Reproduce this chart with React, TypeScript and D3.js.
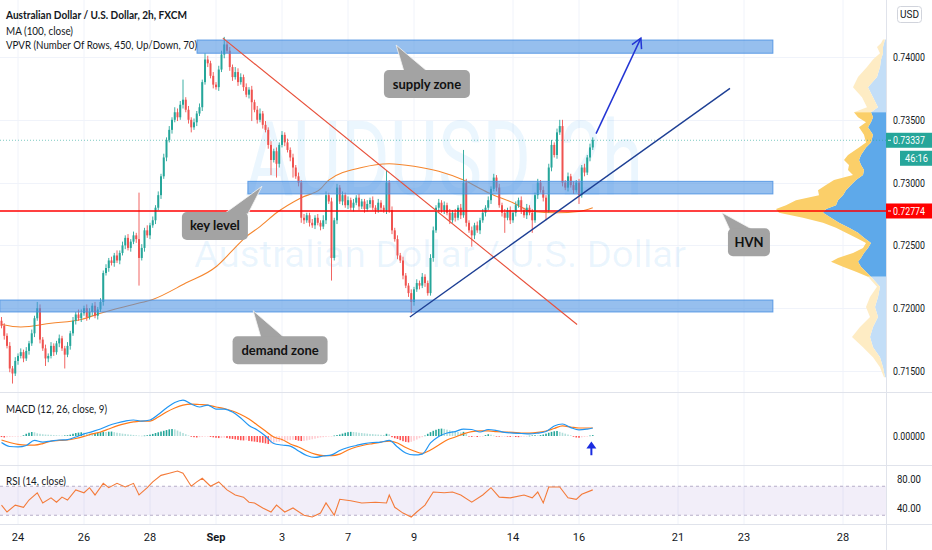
import * as React from "react";
import * as d3 from "d3";

const W = 932;
const H = 550;

// AUDUSD 2h closes, in pips (7186 = 0.71860), one per bar from Aug 21 to Sep 16
const firstOpen = 7190;
const closes = [
  7186, 7178, 7170, 7152, 7148, 7158, 7162, 7165, 7160, 7166, 7172, 7180,
  7192, 7200, 7175, 7168, 7160, 7162, 7170, 7165, 7172, 7176, 7168, 7163,
  7170, 7180, 7190, 7195, 7192, 7196, 7200, 7193, 7197, 7202, 7194, 7199,
  7205, 7228, 7232, 7238, 7236, 7242, 7238, 7244, 7250, 7256, 7248, 7253,
  7258, 7255, 7240, 7248, 7262, 7258, 7266, 7270, 7280, 7290, 7305, 7320,
  7334, 7342, 7350, 7356, 7352, 7362, 7366, 7358, 7350, 7344, 7348, 7355,
  7360, 7380, 7398, 7395, 7385, 7378, 7376, 7390, 7402, 7410, 7405, 7392,
  7384, 7388, 7380, 7384, 7376, 7370, 7374, 7364, 7358, 7350, 7355, 7346,
  7342, 7330, 7318, 7325, 7315, 7330, 7338, 7332, 7326, 7320, 7312, 7305,
  7300, 7272, 7270, 7274, 7268, 7266, 7272, 7268, 7265, 7270, 7290, 7285,
  7240, 7270, 7296, 7285, 7290, 7282, 7286, 7280, 7284, 7288, 7281, 7285,
  7279, 7283, 7286, 7280, 7278, 7284, 7280, 7278, 7300, 7278, 7262, 7255,
  7242, 7238, 7226, 7218, 7212, 7205, 7215, 7220, 7218, 7225, 7220, 7212,
  7240, 7262, 7280, 7284, 7278, 7282, 7276, 7270, 7276, 7272, 7280, 7274,
  7300, 7268, 7262, 7258, 7266, 7262, 7270, 7276, 7280, 7286, 7295, 7304,
  7296, 7282, 7276, 7272, 7278, 7270, 7276, 7282, 7286, 7278, 7274, 7280,
  7276, 7270, 7290, 7300, 7294, 7288, 7278, 7312, 7330, 7322, 7340, 7345,
  7300, 7296, 7305, 7298, 7294, 7300, 7290, 7312, 7308, 7320, 7328, 7334,
];
// wick length above / below the body, pips
const wickHi = [
  3, 2, 2, 3, 2, 3, 2, 3, 2, 3, 2, 3,
  2, 5, 3, 2, 3, 2, 3, 2, 2, 3, 2, 2,
  3, 2, 3, 2, 4, 3, 2, 3, 3, 2, 3, 2,
  3, 2, 3, 2, 3, 2, 4, 2, 3, 2, 3, 2,
  3, 2, 37, 3, 2, 4, 2, 3, 2, 3, 2, 3,
  2, 3, 2, 4, 3, 3, 16, 2, 3, 2, 3, 2,
  3, 2, 5, 3, 2, 3, 2, 3, 3, 6, 2, 3,
  2, 4, 3, 3, 2, 3, 2, 3, 2, 3, 4, 2,
  3, 2, 3, 2, 3, 2, 3, 2, 3, 2, 3, 2,
  3, 2, 3, 2, 2, 3, 2, 3, 2, 4, 3, 2,
  3, 2, 3, 2, 3, 2, 3, 2, 3, 2, 3, 2,
  2, 3, 2, 3, 2, 3, 2, 2, 10, 2, 3, 2,
  3, 2, 3, 2, 2, 3, 2, 3, 2, 3, 2, 2,
  3, 3, 2, 3, 2, 3, 2, 3, 2, 3, 2, 3,
  26, 3, 2, 3, 2, 3, 2, 3, 2, 3, 2, 3,
  2, 3, 2, 3, 2, 3, 2, 3, 2, 3, 2, 3,
  2, 3, 2, 3, 2, 3, 2, 3, 4, 2, 3, 5,
  5, 2, 3, 2, 3, 2, 3, 2, 3, 2, 3, 2,
];
const wickLo = [
  2, 3, 2, 3, 8, 2, 3, 2, 3, 2, 3, 2,
  3, 2, 3, 2, 6, 3, 2, 3, 2, 3, 2, 11,
  2, 3, 2, 3, 2, 3, 2, 3, 2, 3, 2, 3,
  2, 3, 2, 3, 2, 3, 2, 3, 2, 3, 2, 3,
  2, 3, 22, 2, 3, 2, 3, 2, 3, 2, 3, 2,
  3, 2, 3, 2, 3, 2, 3, 2, 3, 4, 2, 3,
  2, 3, 2, 3, 2, 3, 2, 3, 2, 3, 2, 3,
  3, 2, 3, 2, 3, 2, 3, 15, 2, 3, 2, 3,
  2, 3, 12, 2, 11, 3, 2, 3, 2, 3, 8, 2,
  3, 4, 3, 2, 3, 2, 3, 2, 3, 2, 3, 2,
  18, 2, 3, 2, 3, 2, 3, 2, 3, 2, 3, 2,
  3, 2, 3, 2, 3, 2, 3, 2, 3, 2, 3, 2,
  3, 2, 3, 2, 3, 9, 3, 2, 3, 2, 3, 2,
  2, 3, 2, 3, 2, 3, 2, 3, 2, 3, 2, 3,
  2, 3, 2, 9, 3, 2, 3, 2, 3, 2, 3, 2,
  3, 2, 3, 12, 2, 3, 2, 3, 2, 3, 2, 3,
  2, 10, 2, 3, 2, 3, 8, 2, 3, 2, 3, 2,
  3, 2, 3, 2, 3, 2, 7, 2, 3, 2, 3, 2,
];

// MA (100, close), read at a few bars
const maAt = [0, 7, 18, 29, 36, 48, 55, 67, 78, 84, 89, 94, 100, 109, 116, 119, 131, 141, 150, 159, 168, 177, 186, 193, 202, 210, 215];
const maVal = [7187, 7185, 7188, 7191, 7196, 7203, 7207, 7220, 7233, 7246, 7257, 7265, 7276, 7288, 7295, 7302, 7312, 7315, 7313, 7309, 7302, 7292, 7284, 7277, 7276, 7277, 7280];

// MACD (12, 26, close, 9), pips, every 3rd bar
const macdAt = [
  0, 3, 6, 9, 12, 15, 18, 21, 24, 27, 30, 33, 36, 39, 42, 45, 48, 51, 54, 57, 60, 63, 66, 69,
  72, 75, 78, 81, 84, 87, 90, 93, 96, 99, 102, 105, 108, 111, 114, 117, 120, 123, 126, 129,
  132, 135, 138, 141, 144, 147, 150, 153, 156, 159, 162, 165, 168, 171, 174, 177, 180, 183,
  186, 189, 192, 195, 198, 201, 204, 207, 210, 213, 215,
];
const macdVal = [
  -4.4, -7.1, -7.4, -6.4, -3.0, -4.1, -3.4, -2.7, -2.4, -0.7, 1.4, 3.0, 4.7, 7.1, 8.8, 10.1,
  10.8, 10.1, 10.8, 14.5, 18.9, 22.6, 24.3, 21.6, 19.6, 20.9, 18.2, 18.2, 16.2, 12.2, 7.1, 4.1,
  0, -5.1, -6.1, -6.8, -10.1, -13.2, -14.5, -13.5, -12.8, -9.8, -7.8, -6.4, -5.1, -4.4, -4.1,
  -3.0, -7.4, -11.5, -12.8, -12.2, -4.7, -0.3, 2.0, 3.0, 4.7, 4.4, 2.7, 4.4, 3.7, 2.4, 2.0,
  1.7, 1.4, 2.0, 3.0, 6.8, 8.1, 5.7, 4.1, 4.7, 5.4,
];
const signalVal = [
  -2.7, -4.4, -5.7, -6.1, -6.1, -5.1, -3.4, -3.0, -2.7, -1.7, -0.3, 1.4, 2.7, 4.7, 6.8, 8.4,
  9.5, 10.1, 10.1, 12.8, 16.2, 18.9, 20.9, 21.6, 21.3, 20.9, 19.6, 18.6, 16.9, 14.5, 11.5, 7.4,
  3.4, -0.7, -2.4, -5.4, -7.4, -10.1, -12.2, -13.2, -13.2, -12.2, -9.5, -7.4, -6.1, -5.1, -4.1,
  -3.4, -4.7, -7.8, -10.1, -11.8, -9.5, -6.1, -2.7, -0.7, 1.4, 3.0, 3.4, 3.4, 3.0, 2.7, 2.4,
  2.0, 2.0, 2.4, 3.4, 5.1, 6.8, 6.1, 5.4, 5.4, 5.4,
];
// MACD histogram, one per bar
const macdHist = [
  -0.7, -1.0, -0.8, -0.6, -0.5, -0.4,
  -0.3, -0.2, 0.5, 1.5, 2.2, 2.7, 2.5, 1.8, 1.5, 1.2, 1.0, 0.9, 0.8, 0.6,
  0.5, 0.4, 0.3, 0.4, 0.5,
  0.9, 1.5, 2.0, 2.3, 2.5, 2.2, 2.0,
  1.8, 1.7, 1.9,
  2.3, 2.6, 2.8, 2.7, 2.9, 3.0, 2.6, 2.2,
  1.9, 1.6, 1.4, 1.1, 0.9, 0.7,
  0.5, 0.3, 0.2, 0.3, 0.5,
  0.9, 1.4, 2.0, 2.5, 3.0, 3.5, 4.0, 4.5, 4.7, 4.5,
  3.7, 2.9, 2.0, 1.2, 0.4,
  -0.5, -0.8, -1.0, -0.8, -0.6, -0.4, -0.3, -0.6, -0.9,
  -1.2, -1.4, -1.3, -1.1, -1.4, -1.8, -2.0,
  -2.3, -2.6, -2.9, -3.0, -2.8, -3.3, -3.6, -3.8, -4.1, -4.4, -4.6, -5.0,
  -5.4, -5.0,
  -4.5, -4.0, -3.8, -3.5, -3.2, -3.0, -2.8, -2.6, -2.7, -3.2,
  -3.4, -3.3, -3.0, -2.6,
  -2.2, -1.8, -1.4, -1.0, -0.8,
  -0.6, -0.4, -0.3,
  0.3, 0.6, 1.0,
  1.6, 2.2, 2.6, 2.8, 2.7,
  2.5, 2.2, 2.0, 1.8, 1.6, 1.4, 1.3, 1.1, 1.0, 0.8, 0.7,
  1.5, 1.2,
  -0.8, -1.5, -2.0,
  -2.8, -3.5, -4.0, -4.3,
  -3.9, -3.2, -2.4, -1.5,
  -0.8, 0.3,
  1.5, 2.6, 3.5, 4.2, 4.8, 5.0, 4.8,
  4.3, 3.8, 3.4, 3.0, 2.7, 2.4,
  2.8, 1.5,
  -0.3, -0.6, -0.5, -0.7, -0.5, -0.3,
  0.6, 1.2, 0.9,
  0.3, -0.3, -0.4, -0.3, -0.2, -0.4, -0.6, -0.5,
  -0.7, -0.8, -0.6, -0.4, -0.3, 0.2,
  0.4, 0.5, 0.4, 0.6, 1.0,
  1.6, 2.2, 2.8, 3.2, 3.4,
  2.8, 2.2, 1.6, 1.0, 0.5,
  -0.5, -1.0, -1.2, -0.9, -0.6,
  -0.2, 0.3, 0.6,
];

// RSI (14, close)
const rsiAt = [
  0, 2, 5, 8, 10, 13, 15, 18, 20, 22, 24, 27, 30, 32, 34, 37, 39, 42, 45, 48, 50, 53, 55, 58,
  61, 64, 66, 69, 71, 73, 76, 79, 82, 85, 88, 90, 92, 95, 98, 100, 103, 106, 110, 113, 116,
  118, 121, 123, 127, 131, 136, 140, 141, 143, 146, 149, 151, 154, 157, 161, 164, 167, 171,
  175, 178, 181, 185, 190, 193, 195, 197, 199, 203, 206, 209, 211, 215,
];
const rsiVal = [
  44, 34.5, 44, 41, 51, 61, 47, 54, 48, 55, 51, 65, 61, 68, 58, 74, 68, 74, 69, 74, 58, 68, 76,
  85, 88, 91, 88, 70, 76, 81, 70, 76, 65, 58, 55, 48, 47, 40, 34.5, 44, 34.5, 40, 30, 27.6, 33,
  47, 30, 52, 50, 47, 48, 47, 58, 41, 33, 27.6, 34.5, 44, 62, 61, 62, 58, 48, 58, 68, 55, 54,
  58, 54, 62, 47, 69, 69, 54, 52, 59, 65,
];

// visible range volume profile (pips, up volume, down volume)
const profPrice = [
  7414, 7411, 7408, 7403, 7398, 7392, 7384, 7376, 7368, 7360,
  7356, 7352, 7348, 7344, 7338, 7332, 7328, 7322, 7318, 7314, 7310, 7306, 7302, 7298, 7294,
  7290, 7286, 7282, 7279, 7276, 7272, 7268, 7264, 7260, 7256, 7252, 7248, 7244, 7240, 7237,
  7233, 7229, 7225,
  7217, 7209, 7201, 7193, 7185, 7177, 7169, 7161, 7153, 7145,
];
const profUp = [
  1, 2, 3, 3, 5, 6, 9, 18, 13, 8,
  15, 13, 15, 18, 13, 15, 20, 25, 27, 25, 22, 23, 30, 35, 40,
  43, 48, 50, 60, 63, 55, 47, 37, 28, 22, 15, 18, 22, 25, 28,
  25, 20, 15,
  6, 8, 11, 8, 13, 16, 13, 6, 3, 1,
];
const profDown = [
  2, 3, 6, 3, 8, 13, 19, 15, 11, 11,
  17, 15, 5, 9, 9, 5, 7, 13, 15, 12, 16, 10, 22, 25, 28,
  24, 42, 50, 50, 44, 28, 16, 13, 12, 8, 5, 5, 11, 23, 27,
  18, 10, 3,
  3, 8, 9, 8, 13, 18, 10, 7, 3, 1,
];
const vaHigh = 7356;
const vaLow = 7225;

const lastPrice = 7333.7;
const hvnPrice = 7277.4;

const priceTicks = [7400, 7350, 7300, 7250, 7200, 7150];
const dayAt = [6, 30, 54, 78, 102, 126, 150, 186, 210, 246, 270, 306];
const dayLabels = ["24", "26", "28", "Sep", "3", "7", "9", "14", "16", "21", "23", "28"];

// drawings (bar index, pips)
const zoneFrom = [71.1, 89.6, -0.6];
const zoneTo = 280.5;
const zoneTop = [7413.5, 7301, 7206.5];
const zoneBottom = [7403, 7291, 7197];
const redTrendAt = [80.5, 209.3];
const redTrendPrice = [7415, 7187];
const blueTrendAt = [148.5, 264.9];
const blueTrendPrice = [7193, 7375];
const arrowAt = [216.2, 232.5];
const arrowPrice = [7339, 7415];

const calloutText = ["supply zone", "key level", "demand zone", "HVN"];
const calloutTipAt = [143.5, 94.7, 91.5, 262];
const calloutTipPrice = [7409.5, 7297, 7198, 7276];
const calloutAt = [154.7, 77.6, 101.3, 271.8];
const calloutPrice = [7378.5, 7265.5, 7166.5, 7252.5];
const calloutW = [86, 66, 95, 42];

const UP = "#26a69a";
const DOWN = "#ef5350";
const GRID = "#f0f3fa";
const AXIS_FONT = "Roboto, sans-serif";
const TEXT_FONT = "Lato, 'Open Sans', sans-serif";

export default function App() {
  const ref = React.useRef<SVGSVGElement>(null);

  React.useEffect(() => {
    document.body.style.margin = "0";
    if (!ref.current) return;
    const svg = d3.select(ref.current);
    svg.selectAll("*").remove();

    const plotRight = 886;
    const mainBottom = 392;
    const macdBottom = 465;
    const rsiBottom = 524;

    const x = d3.scaleLinear().domain([0, 100]).range([1.5, 276.5]); // 2.75px per bar
    const y = d3.scaleLinear().domain([7150, 7400]).range([371, 57]);
    const yMacd = d3.scaleLinear().domain([0, 10]).range([436, 421.2]);
    const yRsi = d3.scaleLinear().domain([40, 80]).range([508, 479]);

    svg.append("rect").attr("width", W).attr("height", H).attr("fill", "#fff");

    svg
      .append("defs")
      .append("clipPath")
      .attr("id", "mainClip")
      .append("rect")
      .attr("width", plotRight)
      .attr("height", mainBottom);

    // grid
    const grid = svg.append("g");
    grid
      .selectAll("line.v")
      .data(dayAt)
      .enter()
      .append("line")
      .attr("x1", d => x(d))
      .attr("x2", d => x(d))
      .attr("y1", 0)
      .attr("y2", rsiBottom)
      .attr("stroke", GRID);
    grid
      .selectAll("line.h")
      .data(priceTicks)
      .enter()
      .append("line")
      .attr("x1", 0)
      .attr("x2", plotRight)
      .attr("y1", d => Math.round(y(d)) + 0.5)
      .attr("y2", d => Math.round(y(d)) + 0.5)
      .attr("stroke", GRID);

    const main = svg.append("g").attr("clip-path", "url(#mainClip)");

    // watermark
    main
      .append("text")
      .attr("x", 245)
      .attr("y", 195)
      .attr("textLength", 398)
      .attr("lengthAdjust", "spacingAndGlyphs")
      .attr("font-family", "Roboto, sans-serif")
      .attr("font-size", 104)
      .attr("fill", "rgba(33,150,243,0.09)")
      .text("AUDUSD, 2h");
    main
      .append("text")
      .attr("x", 194)
      .attr("y", 267)
      .attr("textLength", 492)
      .attr("lengthAdjust", "spacingAndGlyphs")
      .attr("font-family", "Roboto, sans-serif")
      .attr("font-size", 37)
      .attr("fill", "rgba(33,150,243,0.09)")
      .text("Australian Dollar / U.S. Dollar");

    // volume profile
    type Row = { p: number; up: number; down: number };
    const rows: Row[] = profPrice.map((p, i) => ({ p, up: profUp[i], down: profDown[i] }));
    const w = d3.scaleLinear().domain([0, 110]).range([0, 110]);
    const upArea = d3
      .area<Row>()
      .y(d => y(d.p))
      .x0(plotRight)
      .x1(d => plotRight - w(d.up));
    const downArea = d3
      .area<Row>()
      .y(d => y(d.p))
      .x0(d => plotRight - w(d.up))
      .x1(d => plotRight - w(d.up + d.down));
    const parts = [
      { rows: rows.filter(r => r.p >= vaHigh), inVA: false },
      { rows: rows.filter(r => r.p <= vaHigh && r.p >= vaLow), inVA: true },
      { rows: rows.filter(r => r.p <= vaLow), inVA: false },
    ];
    parts.forEach(part => {
      main
        .append("path")
        .attr("d", upArea(part.rows))
        .attr("fill", part.inVA ? "#5ea9ea" : "#c3def7");
      main
        .append("path")
        .attr("d", downArea(part.rows))
        .attr("fill", part.inVA ? "#fbcf69" : "#feecc4");
    });

    // MA 100
    main
      .append("path")
      .attr(
        "d",
        d3
          .line<number>()
          .curve(d3.curveMonotoneX)
          .x(d => x(d))
          .y((d, i) => y(maVal[i]))(maAt)
      )
      .attr("fill", "none")
      .attr("stroke", "#f5862e")
      .attr("stroke-width", 1.1);

    // candles
    const bars = closes.map((c, i) => {
      const o = i === 0 ? firstOpen : closes[i - 1];
      return { i, o, c, h: Math.max(o, c) + wickHi[i], l: Math.min(o, c) - wickLo[i] };
    });
    const cg = main.append("g");
    cg.selectAll("line")
      .data(bars)
      .enter()
      .append("line")
      .attr("x1", d => x(d.i))
      .attr("x2", d => x(d.i))
      .attr("y1", d => y(d.h))
      .attr("y2", d => y(d.l))
      .attr("stroke", d => (d.c >= d.o ? UP : DOWN))
      .attr("stroke-width", 0.9);
    cg.selectAll("rect")
      .data(bars)
      .enter()
      .append("rect")
      .attr("x", d => x(d.i) - 1)
      .attr("width", 2)
      .attr("y", d => y(Math.max(d.o, d.c)))
      .attr("height", d => Math.max(1, Math.abs(y(d.o) - y(d.c))))
      .attr("fill", d => (d.c >= d.o ? UP : DOWN));

    // zones
    main
      .selectAll("rect.zone")
      .data(zoneFrom)
      .enter()
      .append("rect")
      .attr("x", d => x(d))
      .attr("width", d => x(zoneTo) - x(d))
      .attr("y", (d, i) => y(zoneTop[i]))
      .attr("height", (d, i) => y(zoneBottom[i]) - y(zoneTop[i]))
      .attr("fill", "rgba(74,144,226,0.58)")
      .attr("stroke", "rgba(74,144,226,0.85)");

    // last price dotted line and HVN line
    main
      .append("line")
      .attr("x1", 0)
      .attr("x2", plotRight)
      .attr("y1", y(lastPrice))
      .attr("y2", y(lastPrice))
      .attr("stroke", UP)
      .attr("stroke-opacity", 0.6)
      .attr("stroke-dasharray", "1 2");
    main
      .append("line")
      .attr("x1", 0)
      .attr("x2", plotRight)
      .attr("y1", y(hvnPrice))
      .attr("y2", y(hvnPrice))
      .attr("stroke", "#ff0000")
      .attr("stroke-width", 1.5);

    // trend lines
    const seg = (at: number[], pr: number[], color: string, width: number) =>
      main
        .append("line")
        .attr("x1", x(at[0]))
        .attr("y1", y(pr[0]))
        .attr("x2", x(at[1]))
        .attr("y2", y(pr[1]))
        .attr("stroke", color)
        .attr("stroke-width", width);
    seg(redTrendAt, redTrendPrice, "#e8503a", 1.1);
    seg(blueTrendAt, blueTrendPrice, "#1d3f94", 1.4);
    seg(arrowAt, arrowPrice, "#2234d4", 1.5);
    {
      const ax = x(arrowAt[1]);
      const ay = y(arrowPrice[1]);
      const ang = Math.atan2(ay - y(arrowPrice[0]), ax - x(arrowAt[0]));
      const arm = (s: number) => [ax - 11 * Math.cos(ang + s), ay - 11 * Math.sin(ang + s)];
      const a1 = arm(0.5);
      const a2 = arm(-0.5);
      main
        .append("path")
        .attr("d", `M${a1[0]},${a1[1]}L${ax},${ay}L${a2[0]},${a2[1]}`)
        .attr("fill", "none")
        .attr("stroke", "#2234d4")
        .attr("stroke-width", 1.5);
    }

    // callouts
    calloutText.forEach((t, k) => {
      const cx = x(calloutAt[k]);
      const cy = y(calloutPrice[k]);
      const bw = calloutW[k];
      const bh = 28;
      const left = cx - bw / 2;
      const top = cy - bh / 2;
      const tx = x(calloutTipAt[k]);
      const ty = y(calloutTipPrice[k]);
      const bc = Math.max(left + 12, Math.min(left + bw - 12, tx + 20));
      const g = main.append("g");
      g.append("path")
        .attr("d", `M${bc - 12},${top + 2}L${tx},${ty}L${bc + 12},${top + 2}Z`)
        .attr("fill", "#a3a3a3")
        .attr("stroke", "#f4f4f4")
        .attr("stroke-width", 0.8);
      g.append("rect")
        .attr("x", left)
        .attr("y", top)
        .attr("width", bw)
        .attr("height", bh)
        .attr("rx", 5)
        .attr("fill", "#a3a3a3");
      g.append("text")
        .attr("x", cx)
        .attr("y", cy + 4.5)
        .attr("text-anchor", "middle")
        .attr("font-family", TEXT_FONT)
        .attr("font-weight", 700)
        .attr("font-size", 13)
        .attr("fill", "#111")
        .text(t);
    });

    // pane separators and price axis line
    [mainBottom, macdBottom, rsiBottom].forEach(v =>
      svg
        .append("line")
        .attr("x1", 0)
        .attr("x2", W)
        .attr("y1", v + 0.5)
        .attr("y2", v + 0.5)
        .attr("stroke", "#e0e3eb")
    );
    svg
      .append("line")
      .attr("x1", plotRight + 0.5)
      .attr("x2", plotRight + 0.5)
      .attr("y1", 0)
      .attr("y2", H)
      .attr("stroke", "#e0e3eb");

    // MACD pane
    const macd = svg.append("g");
    macd
      .selectAll("rect")
      .data(macdHist)
      .enter()
      .append("rect")
      .attr("x", (d, i) => x(i) - 0.8)
      .attr("width", 1.6)
      .attr("y", d => Math.min(yMacd(d), yMacd(0)))
      .attr("height", d => Math.max(0.6, Math.abs(yMacd(d) - yMacd(0))))
      .attr("fill", (d, i) => {
        const prev = i === 0 ? d : macdHist[i - 1];
        if (d >= 0) return d >= prev ? UP : "#b2dfdb";
        return d <= prev ? "#ff5252" : "#ffcdd2";
      });
    const macdLine = (vals: number[]) =>
      d3
        .line<number>()
        .curve(d3.curveMonotoneX)
        .x(d => x(d))
        .y((d, i) => yMacd(vals[i]))(macdAt);
    macd
      .append("path")
      .attr("d", macdLine(signalVal))
      .attr("fill", "none")
      .attr("stroke", "#ff7a1a")
      .attr("stroke-width", 1.2);
    macd
      .append("path")
      .attr("d", macdLine(macdVal))
      .attr("fill", "none")
      .attr("stroke", "#2196f3")
      .attr("stroke-width", 1.2);
    {
      const ax = x(214.5);
      const top = yMacd(-3.8);
      const bot = yMacd(-13);
      macd
        .append("line")
        .attr("x1", ax)
        .attr("x2", ax)
        .attr("y1", top + 5)
        .attr("y2", bot)
        .attr("stroke", "#1a2ce0")
        .attr("stroke-width", 2);
      macd
        .append("path")
        .attr("d", `M${ax},${top}L${ax - 5},${top + 7}L${ax + 5},${top + 7}Z`)
        .attr("fill", "#1a2ce0");
    }

    // RSI pane
    const rsi = svg.append("g");
    rsi
      .append("rect")
      .attr("x", 0)
      .attr("width", plotRight)
      .attr("y", yRsi(70))
      .attr("height", yRsi(30) - yRsi(70))
      .attr("fill", "rgba(126,87,194,0.1)");
    [70, 30].forEach(v =>
      rsi
        .append("line")
        .attr("x1", 0)
        .attr("x2", plotRight)
        .attr("y1", yRsi(v))
        .attr("y2", yRsi(v))
        .attr("stroke", "#b7afc9")
        .attr("stroke-dasharray", "3 3")
    );
    rsi
      .append("path")
      .attr(
        "d",
        d3
          .line<number>()
          .x(d => x(d))
          .y((d, i) => yRsi(rsiVal[i]))(rsiAt)
      )
      .attr("fill", "none")
      .attr("stroke", "#f47b3a")
      .attr("stroke-width", 1.1);

    // axes text
    const axisText = (px: number, py: number, t: string, len: number) =>
      svg
        .append("text")
        .attr("x", px)
        .attr("y", py)
        .attr("textLength", len)
        .attr("lengthAdjust", "spacingAndGlyphs")
        .attr("font-family", AXIS_FONT)
        .attr("font-size", 11)
        .attr("fill", "#131722")
        .text(t);
    priceTicks.forEach(p => axisText(893, y(p) + 4, (p / 10000).toFixed(5), 32));
    axisText(893, yMacd(0) + 4, "0.00000", 32);
    axisText(897, yRsi(80) + 4, "80.00", 24);
    axisText(897, yRsi(40) + 4, "40.00", 24);

    dayLabels.forEach((t, k) =>
      svg
        .append("text")
        .attr("x", x(dayAt[k]))
        .attr("y", 541)
        .attr("text-anchor", "middle")
        .attr("font-family", AXIS_FONT)
        .attr("font-size", 11)
        .attr("font-weight", t === "Sep" ? 700 : 400)
        .attr("fill", "#131722")
        .text(t)
    );

    // price tags
    const tag = (py: number, t: string, fill: string, left: number, len: number) => {
      svg
        .append("rect")
        .attr("x", left)
        .attr("y", py - 7.5)
        .attr("width", W - left)
        .attr("height", 15)
        .attr("fill", fill);
      if (left === plotRight) {
        svg
          .append("line")
          .attr("x1", left + 2)
          .attr("x2", left + 5)
          .attr("y1", py)
          .attr("y2", py)
          .attr("stroke", "#fff");
      }
      svg
        .append("text")
        .attr("x", left === plotRight ? 893 : left + 5)
        .attr("y", py + 4)
        .attr("textLength", len)
        .attr("lengthAdjust", "spacingAndGlyphs")
        .attr("font-family", AXIS_FONT)
        .attr("font-size", 11)
        .attr("fill", "#fff")
        .text(t);
    };
    tag(y(lastPrice), "0.73337", UP, plotRight, 32);
    tag(y(lastPrice) + 18, "46:16", UP, 900, 23);
    tag(y(hvnPrice), "0.72774", "#ff0000", plotRight, 32);

    svg
      .append("rect")
      .attr("x", 897.5)
      .attr("y", 6.5)
      .attr("width", 24)
      .attr("height", 16)
      .attr("rx", 3)
      .attr("fill", "#fff")
      .attr("stroke", "#d1d4dc");
    svg
      .append("text")
      .attr("x", 909.5)
      .attr("y", 18)
      .attr("text-anchor", "middle")
      .attr("font-family", AXIS_FONT)
      .attr("font-size", 10)
      .attr("fill", "#131722")
      .text("USD");

    // legends
    const legend = (py: number, t: string, len: number, bold = false) =>
      svg
        .append("text")
        .attr("x", 6)
        .attr("y", py)
        .attr("textLength", len)
        .attr("lengthAdjust", "spacingAndGlyphs")
        .attr("font-family", TEXT_FONT)
        .attr("font-size", 11.5)
        .attr("font-weight", bold ? 700 : 400)
        .attr("fill", "#131722")
        .text(t);
    legend(19, "Australian Dollar / U.S. Dollar, 2h, FXCM", 181, true);
    legend(35, "MA (100, close)", 67);
    legend(49, "VPVR (Number Of Rows, 450, Up/Down, 70)", 191);
    legend(413, "MACD (12, 26, close, 9)", 101);
    legend(485, "RSI (14, close)", 60);
  }, []);

  return <svg ref={ref} width={W} height={H} style={{ display: "block" }} />;
}
